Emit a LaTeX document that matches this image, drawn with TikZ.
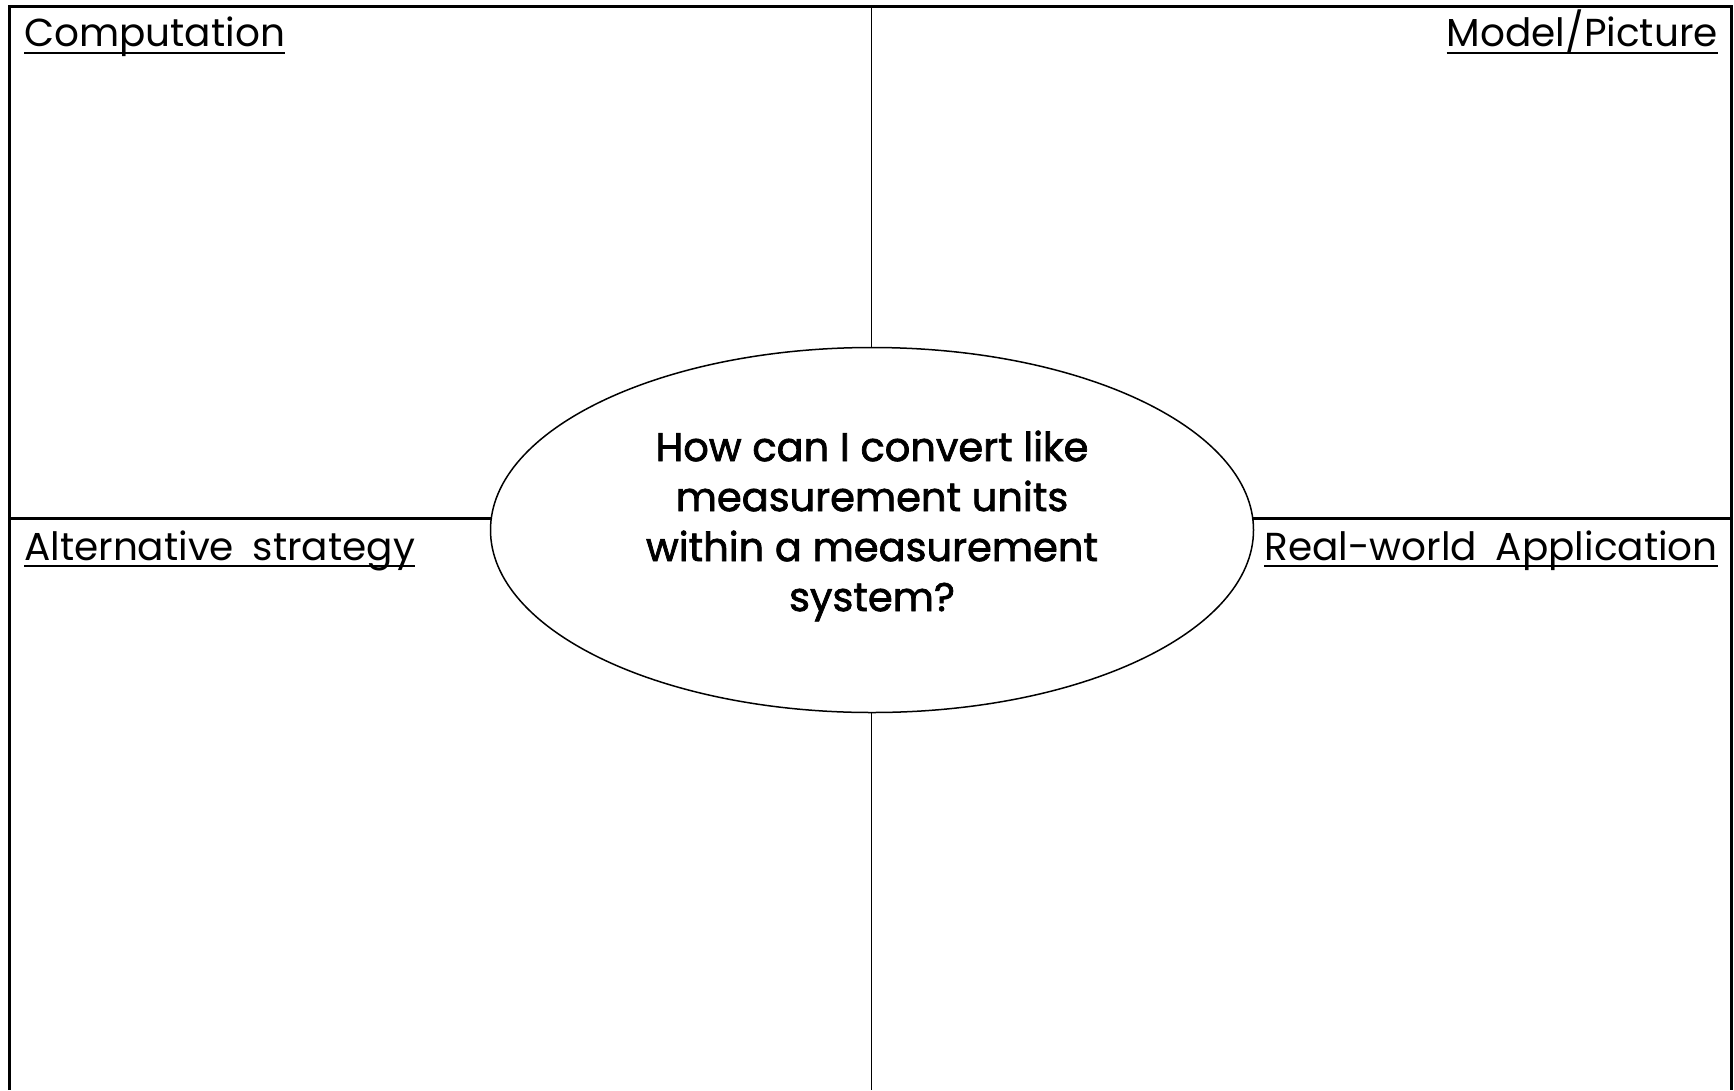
\documentclass[tikz,border=0pt]{standalone}
\usepackage{fontspec}
\setmainfont[WordSpace={1.8,1,1}]{Poppins}
\newfontfamily\questionfont[FakeBold=1.8]{Poppins}
\usetikzlibrary{shapes.geometric}
\tikzset{
  frameline/.style={line width=3.4pt},
  midline/.style={line width=1.5pt},
  heading/.style={inner sep=0pt, font=\fontsize{39}{47}\selectfont},
  underline/.style={line width=2pt},
  bubble/.style={ellipse, draw, line width=1.5pt, fill=white, inner sep=0pt,
    minimum width=763pt, minimum height=365pt},
  question/.style={align=center, inner sep=0pt,
    font=\questionfont\fontsize{40}{50}\selectfont}
}

\begin{document}
\begin{tikzpicture}[x=1pt,y=-1pt]
  \useasboundingbox (0,0) rectangle (1734,1090);
  % Frame
  \coordinate (tl) at (9.5,6.7);
  \coordinate (tr) at (1731.5,6.7);
  \coordinate (bl) at (9.5,1090);
  \coordinate (br) at (1731.5,1090);
  \coordinate (tm) at (871.5,6.7);
  \coordinate (bm) at (871.5,1090);
  \coordinate (ml) at (9.5,518.5);
  \coordinate (mr) at (1731.5,518.5);
  \draw[frameline] (bl) -- (tl) -- (tr) -- (br);
  \draw[frameline] (ml) -- (mr);
  \draw[midline] (tm) -- (bm);
  % Centre bubble
  \node[bubble] (bubble) at (872,530) {};
  \node[question] (ask) at (872,526)
    {How can I convert like\\ measurement units\\ within a measurement\\ system?};
  % Labels
  \node[heading, anchor=base west] (comp) at (24,46.7) {Computation};
  \node[heading, anchor=base east] (model) at (1718,46.7) {Model/Picture};
  \node[heading, anchor=base west] (alt) at (24,560) {Alternative strategy};
  \node[heading, anchor=base east] (real) at (1718,560) {Real-world Application};
  \foreach \lab in {comp,model,alt,real}
    \draw[underline] ([yshift=-6pt]\lab.base west) -- ([yshift=-6pt]\lab.base east);
\end{tikzpicture}
\end{document}
